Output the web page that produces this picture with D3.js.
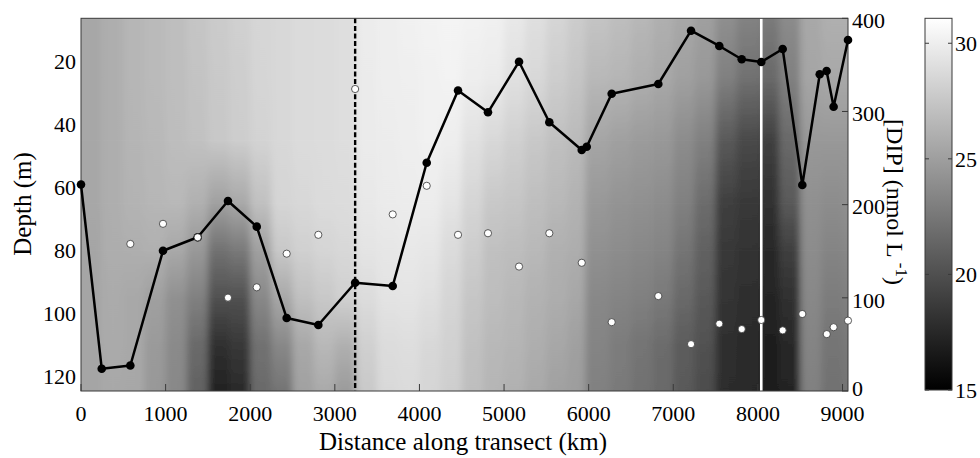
<!DOCTYPE html>
<html>
<head>
<meta charset="utf-8">
<script src="https://cdn.jsdelivr.net/npm/d3@7/dist/d3.min.js"></script>
<style>
  html, body { margin: 0; padding: 0; background: #fff; }
  svg { display: block; }
  text { font-family: "Liberation Serif", "Times New Roman", serif; fill: #000; }
</style>
</head>
<body>
<svg id="chart" width="980" height="458"></svg>
<script>
// ---------------- DATA ----------------
// Temperature section (background field), gray scale 15..31
const depthLevels = [6, 25, 45, 65, 80, 95, 110, 125];
const colEdges = [0,250,500,750,1000,1250,1500,1750,2000,2250,2500,2750,3000,3250,3500,3750,4000,4250,4500,4750,5000,5250,5500,5750,
                  5960,6250,6500,6750,7000,7250,7500,7750,8040,8250,8500,8750,9000,9065];
const tempGrid = [
  [25.5,25.5,25.5,25.5,25.4,25.4,25.4,25.4],
  [26.0,26.0,26.0,26.0,25.9,25.8,25.7,25.6],
  [26.5,26.5,26.4,26.3,26.0,25.6,25.6,25.5],
  [26.7,26.7,26.6,26.5,26.1,25.1,24.7,24.6],
  [27.0,27.0,26.9,26.6,25.6,24.1,23.7,23.6],
  [27.4,27.3,27.2,26.1,24.6,23.1,21.7,21.1],
  [27.8,27.7,27.6,25.1,22.1,20.1,18.0,17.0],
  [28.1,28.0,27.9,25.6,22.6,20.1,18.5,17.5],
  [28.5,28.4,28.3,27.1,25.1,23.6,22.1,21.6],
  [28.6,28.6,28.6,28.4,27.6,25.6,23.6,22.1],
  [28.8,28.8,28.8,28.6,28.1,27.1,25.6,25.1],
  [28.9,28.9,28.9,28.8,28.4,27.6,26.6,25.6],
  [29.0,29.0,29.0,28.9,28.6,28.1,26.1,24.6],
  [29.9,29.8,29.8,29.6,29.4,28.9,28.1,27.6],
  [30.0,30.0,29.9,29.8,29.5,29.3,28.9,28.6],
  [30.2,30.1,30.0,29.9,29.6,29.4,29.0,28.8],
  [30.3,30.2,30.2,29.9,29.5,29.1,28.6,28.4],
  [30.4,30.3,30.0,29.4,28.8,28.4,28.2,28.0],
  [30.3,30.0,29.2,28.4,27.9,27.5,27.2,27.0],
  [30.2,29.8,28.6,27.6,27.1,26.9,26.6,26.4],
  [29.7,29.1,28.1,27.4,26.9,26.6,26.4,26.1],
  [29.1,28.6,27.6,27.0,26.6,26.2,26.0,25.6],
  [28.5,27.9,27.1,26.6,26.1,25.9,25.5,25.1],
  [27.9,27.4,26.7,26.2,25.9,25.5,25.1,24.9],
  [27.4,26.6,25.4,24.6,24.1,23.6,23.3,23.1],
  [27.0,26.4,25.1,24.3,23.8,23.3,22.8,22.6],
  [26.6,26.0,24.8,24.1,23.6,23.1,22.3,22.1],
  [26.1,25.6,24.6,23.8,23.3,22.6,21.8,21.6],
  [25.6,25.1,23.8,23.1,22.3,21.6,20.8,20.6],
  [25.1,24.6,23.1,21.8,21.1,20.6,20.1,19.8],
  [24.1,23.1,20.6,19.0,18.5,18.3,17.9,17.8],
  [23.3,22.1,19.6,18.5,18.2,17.9,17.7,17.5],
  [22.8,21.6,19.0,18.0,17.5,17.3,16.9,16.6],
  [23.8,23.1,21.6,20.6,19.0,18.0,17.5,17.2],
  [25.6,25.4,24.6,24.1,23.8,23.6,23.3,23.1],
  [26.1,25.6,24.6,23.8,23.3,22.8,22.3,22.1],
  [26.1,25.6,24.6,24.1,23.6,23.1,22.6,22.3]
];

// Black line: [DIP] (right axis)
const dipKm  = [0,245,583,969,1379,1737,2077,2431,2805,3240,3684,4086,4456,4810,5177,5535,5918,5977,6272,6823,7210,7544,7809,8040,8293,8525,8731,8812,8895,9065];
const dipVal = [221.6,23.9,27.4,150.5,165.0,203.9,176.4,78.3,70.8,116.2,112.7,245.0,322.5,299.1,353.4,288.4,258.7,262.2,319.1,329.5,386.7,370.3,356.0,353.1,367.1,221.1,339.9,343.4,305.1,376.7];

// White circles: depth (left axis)
const circKm    = [583,969,1379,1737,2077,2431,2805,3240,3684,4086,4456,4810,5177,5535,5918,6272,6823,7210,7544,7809,8040,8293,8525,8814,8895,9065];
const circDepth = [78.0,71.6,75.9,95.1,91.8,81.1,75.1,28.7,68.6,59.5,75.1,74.6,85.2,74.6,84.0,102.9,94.6,109.9,103.4,105.1,102.2,105.5,100.3,106.7,104.5,102.4];

// Vertical marker lines (km)
const dashedLineKm = 3240;
const whiteLineKm  = 8040;

// Ticks
const xTicks = [0,1000,2000,3000,4000,5000,6000,7000,8000,9000];
const depthTicks = [20,40,60,80,100,120];
const dipTicks = [0,100,200,300,400];
const cbTicks = [15,20,25,30];

const xLabel = "Distance along transect (km)";
const yLabel = "Depth (m)";

// ---------------- LAYOUT ----------------
const L = 81, R = 848, T = 18.3, B = 391;
const svg = d3.select("#chart");

const x = d3.scaleLinear().domain([0, 9065]).range([L, R]);
const yDepth = d3.scaleLinear().domain([6.2, 124.8]).range([T, B]);
const yDip = d3.scaleLinear().domain([0, 400]).range([B, T]);
const tMin = 15, tMax = 31.08;
const gray = d3.scaleLinear().domain([tMin, tMax]).range(["#000000", "#ffffff"]).clamp(true);

const defs = svg.append("defs");
defs.append("clipPath").attr("id", "plotclip")
  .append("rect").attr("x", L).attr("y", T).attr("width", R - L).attr("height", B - T);
const blur = defs.append("filter").attr("id", "hblur")
  .attr("x", "-5%").attr("y", "-5%").attr("width", "110%").attr("height", "110%");
blur.append("feGaussianBlur").attr("stdDeviation", "3.5 0.5");

// background field: each grid cell is a rect filled with a vertical gradient
// between the two depth-level values that bound it
const cells = [];
tempGrid.forEach((col, i) => {
  for (let j = 0; j < depthLevels.length - 1; j++) {
    cells.push({ i, j, v0: col[j], v1: col[j + 1] });
  }
});
cells.forEach((c, k) => {
  const g = defs.append("linearGradient").attr("id", "cg" + k)
    .attr("x1", 0).attr("y1", 0).attr("x2", 0).attr("y2", 1);
  g.append("stop").attr("offset", 0).attr("stop-color", gray(c.v0));
  g.append("stop").attr("offset", 1).attr("stop-color", gray(c.v1));
});

const field = svg.append("g").attr("clip-path", "url(#plotclip)");
const fieldInner = field.append("g").attr("filter", "url(#hblur)");
const nCol = tempGrid.length;
fieldInner.selectAll("rect.cell").data(cells).join("rect")
  .attr("class", "cell")
  .attr("x", d => x(colEdges[d.i]) - (d.i === 0 ? 12 : 0))
  .attr("width", d => x(colEdges[d.i + 1]) - x(colEdges[d.i]) + 0.7 + (d.i === 0 ? 12 : 0) + (d.i === nCol - 1 ? 12 : 0))
  .attr("y", d => yDepth(depthLevels[d.j]) - (d.j === 0 ? 6 : 0))
  .attr("height", d => yDepth(depthLevels[d.j + 1]) - yDepth(depthLevels[d.j]) + 0.7 + (d.j === depthLevels.length - 2 ? 6 : 0) + (d.j === 0 ? 6 : 0))
  .attr("fill", (d, k) => `url(#cg${k})`);

// vertical lines
field.append("line")
  .attr("x1", x(dashedLineKm)).attr("x2", x(dashedLineKm))
  .attr("y1", T).attr("y2", B)
  .attr("stroke", "#000").attr("stroke-width", 2.4)
  .attr("stroke-dasharray", "5,2.6");
field.append("line")
  .attr("x1", x(whiteLineKm)).attr("x2", x(whiteLineKm))
  .attr("y1", T).attr("y2", B)
  .attr("stroke", "#fff").attr("stroke-width", 2.6);

// frame
svg.append("rect").attr("x", L).attr("y", T).attr("width", R - L).attr("height", B - T)
  .attr("fill", "none").attr("stroke", "#3a3a3a").attr("stroke-width", 1);

// bottom ticks (inward)
svg.append("g").selectAll("line").data(xTicks).join("line")
  .attr("x1", d => x(d)).attr("x2", d => x(d))
  .attr("y1", B).attr("y2", B - 7)
  .attr("stroke", "#3a3a3a").attr("stroke-width", 1);
svg.append("g").selectAll("text").data(xTicks).join("text")
  .attr("x", d => x(d)).attr("y", 421)
  .attr("text-anchor", "middle").attr("font-size", 22)
  .text(d => d);

// left axis labels
svg.append("g").selectAll("text").data(depthTicks).join("text")
  .attr("x", 76).attr("y", d => yDepth(d))
  .attr("dy", "0.35em")
  .attr("text-anchor", "end").attr("font-size", 22)
  .text(d => d);

// right axis ticks (inward) and labels
svg.append("g").selectAll("line").data(dipTicks).join("line")
  .attr("x1", R).attr("x2", R - 6)
  .attr("y1", d => yDip(d)).attr("y2", d => yDip(d))
  .attr("stroke", "#3a3a3a").attr("stroke-width", 1);
svg.append("g").selectAll("text").data(dipTicks).join("text")
  .attr("x", 852).attr("y", d => d === 0 ? yDip(d) - 2.5 : yDip(d) + 2)
  .attr("dy", "0.35em")
  .attr("text-anchor", "start").attr("font-size", 22)
  .text(d => d);

// axis titles
svg.append("text")
  .attr("x", 463).attr("y", 450)
  .attr("text-anchor", "middle").attr("font-size", 25)
  .text(xLabel);
svg.append("text")
  .attr("transform", "translate(31,204) rotate(-90)")
  .attr("text-anchor", "middle").attr("font-size", 25)
  .text(yLabel);
const rt = svg.append("text")
  .attr("transform", "translate(887,202) rotate(90)")
  .attr("text-anchor", "middle").attr("font-size", 24);
rt.append("tspan").text("[DIP] (nmol L ");
rt.append("tspan").attr("font-size", 17).attr("dy", -9).text("-1");
rt.append("tspan").attr("dy", 9).text(")");

// black line with filled dots
const pts = dipKm.map((k, i) => [x(k), yDip(dipVal[i])]);
svg.append("path")
  .attr("d", d3.line()(pts))
  .attr("fill", "none").attr("stroke", "#000").attr("stroke-width", 2.5)
  .attr("stroke-linejoin", "round");
svg.append("g").selectAll("circle").data(pts).join("circle")
  .attr("cx", d => d[0]).attr("cy", d => d[1]).attr("r", 4.3)
  .attr("fill", "#000");

// white circles
svg.append("g").selectAll("circle").data(circKm).join("circle")
  .attr("cx", d => x(d)).attr("cy", (d, i) => yDepth(circDepth[i])).attr("r", 3.6)
  .attr("fill", "#fff").attr("stroke", "#333").attr("stroke-width", 0.8);

// colorbar
const cbL = 925, cbR = 952, cbT = 18.3, cbB = 390;
const cbY = d3.scaleLinear().domain([tMin, tMax]).range([cbB, cbT]);
const cg = defs.append("linearGradient").attr("id", "cbgrad")
  .attr("x1", 0).attr("x2", 0).attr("y1", 1).attr("y2", 0);
cg.append("stop").attr("offset", 0).attr("stop-color", gray(tMin));
cg.append("stop").attr("offset", 1).attr("stop-color", gray(tMax));
svg.append("rect").attr("x", cbL).attr("y", cbT).attr("width", cbR - cbL).attr("height", cbB - cbT)
  .attr("fill", "url(#cbgrad)").attr("stroke", "#3a3a3a").attr("stroke-width", 1);
const cbt = svg.append("g");
cbt.selectAll("line.l").data(cbTicks).join("line").attr("class", "l")
  .attr("x1", cbL).attr("x2", cbL + 4).attr("y1", d => cbY(d)).attr("y2", d => cbY(d))
  .attr("stroke", "#3a3a3a");
cbt.selectAll("line.r").data(cbTicks).join("line").attr("class", "r")
  .attr("x1", cbR - 4).attr("x2", cbR).attr("y1", d => cbY(d)).attr("y2", d => cbY(d))
  .attr("stroke", "#3a3a3a");
cbt.selectAll("text").data(cbTicks).join("text")
  .attr("x", 955).attr("y", d => cbY(d))
  .attr("dy", "0.35em").attr("font-size", 22)
  .text(d => d);
</script>
</body>
</html>
